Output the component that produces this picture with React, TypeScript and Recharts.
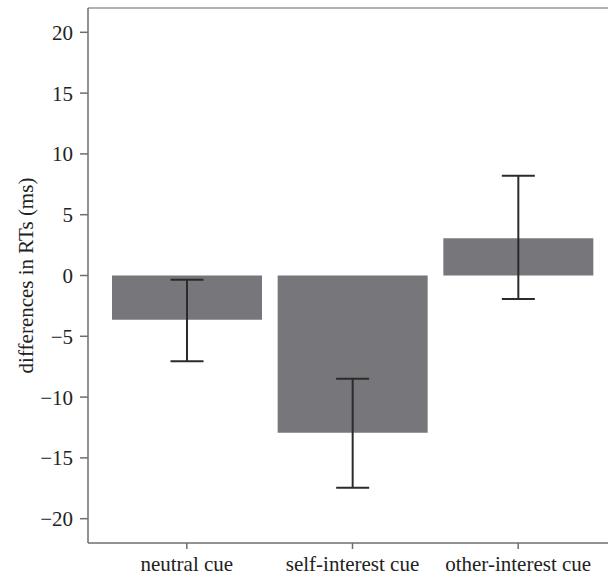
import { Bar, BarChart, ErrorBar, Label, ReferenceLine, XAxis, YAxis } from "recharts";

const CUES = ["neutral cue", "self-interest cue", "other-interest cue"];
const DIFF_MS = [-3.64, -12.94, 3.07];
// [below, above] distances of the error bar ends from the bar value
const ERR_MS: [number, number][] = [
  [3.42, 3.29],
  [4.51, 4.44],
  [5.01, 5.14],
];
const Y_TICKS = [-20, -15, -10, -5, 0, 5, 10, 15, 20];
const Y_DOMAIN: [number, number] = [-22, 22];

const data = CUES.map((name, i) => ({ name, diff: DIFF_MS[i], err: ERR_MS[i] }));

const FONT = "'Liberation Serif', 'Times New Roman', serif";
const AXIS = "#6e6e6e";

function YLabel({ viewBox }: any) {
  const cx = 26;
  const cy = viewBox.y + viewBox.height / 2;
  return (
    <text
      x={cx}
      y={cy}
      transform={`rotate(-90, ${cx}, ${cy})`}
      textAnchor="middle"
      dominantBaseline="central"
      fontFamily={FONT}
      fontSize={21}
      fill="#222"
    >
      differences in RTs (ms)
    </text>
  );
}

export default function App() {
  return (
    <div
      style={{
        position: "absolute",
        left: 0,
        top: 0,
        width: 608,
        height: 575,
        overflow: "hidden",
        background: "#fff",
      }}
    >
      <BarChart
        width={617}
        height={575}
        data={data}
        margin={{ top: 8, right: 0, bottom: 0, left: 0 }}
        barCategoryGap={8}
      >
        <XAxis
          dataKey="name"
          height={32}
          padding={{ left: 16, right: 16 }}
          stroke={AXIS}
          strokeWidth={1.5}
          tickSize={6}
          tickMargin={7}
          tick={{ fontFamily: FONT, fontSize: 21, fill: "#222" }}
        />
        <YAxis
          width={88}
          domain={Y_DOMAIN}
          ticks={Y_TICKS}
          allowDataOverflow
          stroke={AXIS}
          strokeWidth={1.5}
          tickSize={8}
          tickMargin={7}
          tick={{ fontFamily: FONT, fontSize: 21, fill: "#222" }}
          tickFormatter={(v: number) => String(v).replace("-", "\u2212")}
        >
          <Label content={<YLabel />} />
        </YAxis>
        <ReferenceLine y={Y_DOMAIN[1]} stroke="#999" strokeWidth={1.5} />
        <Bar dataKey="diff" fill="#77777b" isAnimationActive={false}>
          <ErrorBar dataKey="err" width={16.5} stroke="#2b2b2b" strokeWidth={2} isAnimationActive={false} />
        </Bar>
      </BarChart>
    </div>
  );
}
